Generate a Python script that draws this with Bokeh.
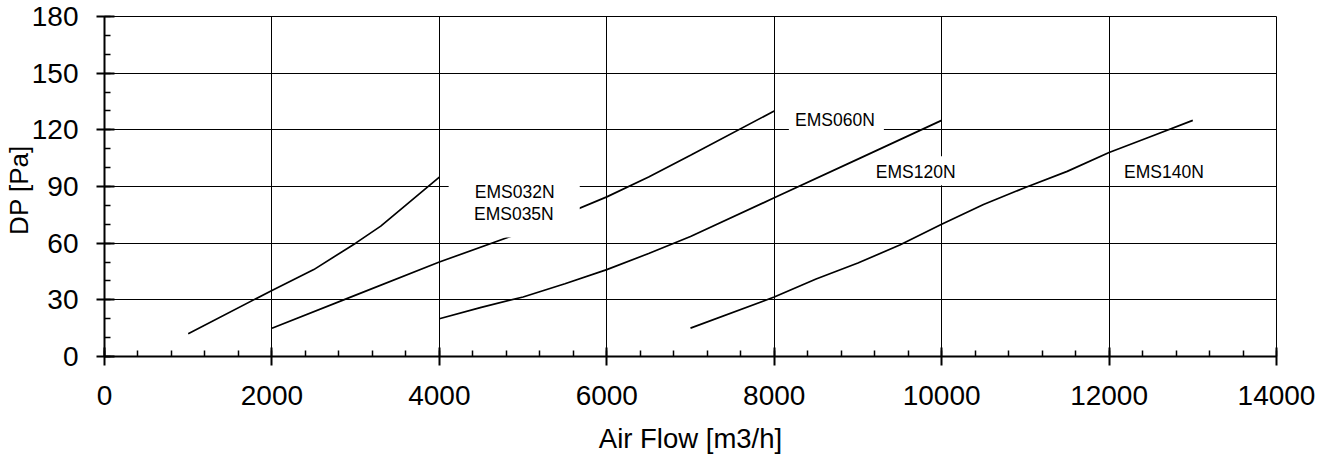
from bokeh.plotting import figure
from bokeh.models import Range1d, SingleIntervalTicker, BoxAnnotation, Label
from bokeh.embed import file_html
from bokeh.resources import INLINE

# --- data ---
ems032_x = [1000, 2000, 2500, 3000, 3300, 4000]
ems032_y = [12, 35, 46, 60, 69, 95]

ems060_x = [2000, 3000, 4000, 5000, 6000, 6500, 7000, 8000]
ems060_y = [15, 32.5, 50, 66, 84.5, 95, 106.5, 130]

ems120_x = [4000, 4500, 5000, 5500, 6000, 6500, 7000, 8000, 9000, 10000]
ems120_y = [20, 26, 31.5, 38.5, 46, 54.5, 63.5, 84, 104.5, 125]

ems140_x = [7000, 8000, 8500, 9000, 9500, 10000, 10500, 11000, 11500, 12000, 12500, 13000]
ems140_y = [15, 31.5, 41, 49.5, 59, 70, 80.5, 89.5, 98, 108, 116.5, 125]

curve_labels = ["EMS032N", "EMS035N", "EMS060N", "EMS120N", "EMS140N"]

# label placement (data coordinates)
label_x = [4900, 4890, 8725, 9690, 12656]
label_y = [87.3, 75.7, 125.3, 97.6, 97.6]
# white label backgrounds: (left, right, bottom, top)
label_boxes = [(4111, 5677, 63.0, 95.5), (8175, 9310, 117.0, 133.5),
               (9150, 10267, 90.7, 106.0), (12085, 13230, 90.7, 106.0)]

FONT = "Liberation Sans"

p = figure(width=1320, height=458, output_backend="svg", toolbar_location=None,
           x_range=Range1d(0, 14000), y_range=Range1d(0, 180),
           min_border_left=104, min_border_right=44, min_border_top=16, min_border_bottom=102)
p.background_fill_color = "white"
p.border_fill_color = "white"
p.outline_line_color = "black"
p.outline_line_width = 1

for xs, ys in [(ems032_x, ems032_y), (ems060_x, ems060_y), (ems120_x, ems120_y), (ems140_x, ems140_y)]:
    p.line(xs, ys, line_color="black", line_width=1.7)

# axes
p.xaxis.ticker = SingleIntervalTicker(interval=2000, num_minor_ticks=5)
p.yaxis.ticker = SingleIntervalTicker(interval=30, num_minor_ticks=3)
for ax in (p.xaxis[0], p.yaxis[0]):
    ax.axis_line_color = "black"
    ax.axis_line_width = 2
    ax.major_tick_line_color = "black"
    ax.major_tick_line_width = 2
    ax.minor_tick_line_color = "black"
    ax.minor_tick_line_width = 1.5
    ax.major_label_text_font = FONT
    ax.major_label_text_font_size = "28px"
    ax.major_label_text_color = "black"
    ax.axis_label_text_font = FONT
    ax.axis_label_text_font_style = "normal"
    ax.axis_label_text_color = "black"

p.xaxis.major_tick_in = 9
p.xaxis.major_tick_out = 9
p.xaxis.minor_tick_in = 6
p.xaxis.minor_tick_out = 0
p.xaxis.major_label_standoff = 20
p.xaxis.axis_label = "Air Flow [m3/h]"
p.xaxis.axis_label_text_font_size = "27.5px"
p.xaxis.axis_label_standoff = 15

p.yaxis.major_tick_in = 10
p.yaxis.major_tick_out = 8
p.yaxis.minor_tick_in = 6
p.yaxis.minor_tick_out = 0
p.yaxis.major_label_standoff = 18
p.yaxis.axis_label = "DP  [Pa]"
p.yaxis.axis_label_text_font_size = "26px"
p.yaxis.axis_label_standoff = -5

p.xgrid.ticker = SingleIntervalTicker(interval=2000)
p.ygrid.ticker = SingleIntervalTicker(interval=30)
for g in (p.xgrid[0], p.ygrid[0]):
    g.grid_line_color = "black"
    g.grid_line_width = 1
    g.grid_line_alpha = 1

for (l, r, b, t) in label_boxes:
    p.add_layout(BoxAnnotation(left=l, right=r, bottom=b, top=t,
                               fill_color="white", fill_alpha=1, line_alpha=0))

for txt, lx, ly in zip(curve_labels, label_x, label_y):
    p.add_layout(Label(x=lx, y=ly, text=txt, text_align="center", text_baseline="middle",
                       text_font=FONT, text_font_size="17.5px", text_color="black"))

open("out.html", "w").write(file_html(p, INLINE))
